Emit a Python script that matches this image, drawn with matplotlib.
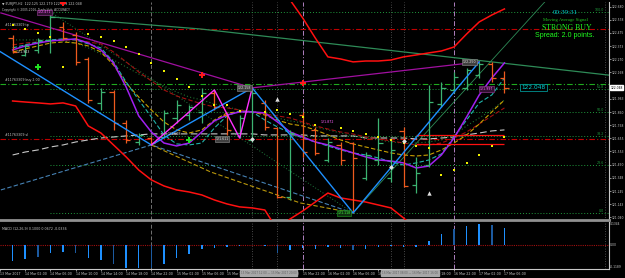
import matplotlib.pyplot as plt
import numpy as np

# EURJPY H2 - 40 bars on screen (bar index 0..39)
bars = np.arange(40)
opens = [122.436, 122.304, 122.343, 122.421, 122.522, 122.460, 122.273, 121.931, 122.016, 121.775,
         121.627, 121.658, 121.666, 121.814, 121.837, 121.861, 122.009, 121.837, 121.697, 121.643,
         121.931, 121.736, 121.200, 121.837, 121.721, 121.487, 121.604, 121.619, 121.347, 121.487,
         121.347, 121.713, 121.293, 121.448, 121.923, 122.032, 122.048, 122.149, 122.234, 122.125]
highs = [122.460, 122.390, 122.436, 122.639, 122.561, 122.483, 122.289, 122.048, 122.032, 121.798,
         121.697, 121.666, 121.876, 121.954, 121.915, 122.048, 122.032, 121.853, 121.837, 122.048,
         121.954, 121.744, 121.721, 121.861, 121.744, 121.658, 121.627, 121.627, 121.549, 121.814,
         121.643, 121.744, 121.511, 122.071, 122.094, 122.172, 122.203, 122.250, 122.250, 122.179]
lows = [122.320, 122.296, 122.320, 122.320, 122.421, 122.226, 121.931, 121.876, 121.721, 121.619,
        121.604, 121.604, 121.658, 121.775, 121.798, 121.775, 121.876, 121.682, 121.658, 121.627,
        121.721, 121.192, 121.176, 121.511, 121.526, 121.472, 121.448, 121.075, 121.332, 121.448,
        121.316, 121.277, 121.231, 121.433, 121.900, 122.009, 122.032, 122.125, 122.094, 122.009]
closes = [122.328, 122.374, 122.421, 122.600, 122.436, 122.250, 121.954, 122.016, 121.775, 121.643,
          121.682, 121.619, 121.853, 121.915, 121.900, 122.009, 121.900, 121.721, 121.814, 122.009,
          121.744, 121.200, 121.697, 121.549, 121.541, 121.627, 121.487, 121.503, 121.526, 121.619,
          121.565, 121.285, 121.386, 121.938, 122.048, 122.133, 122.187, 122.234, 122.125, 122.048]

# moving averages (one value per bar)
ma_purple = [122.343, 122.374, 122.397, 122.413, 122.421, 122.429, 122.397, 122.343, 122.242, 122.055,
             121.830, 121.705, 121.619, 121.596, 121.619, 121.705, 121.791, 121.837, 121.861, 121.861,
             121.853, 121.783, 121.705, 121.666, 121.627, 121.604, 121.573, 121.542, 121.511, 121.487,
             121.479, 121.464, 121.425, 121.440, 121.526, 121.658, 121.822, 121.993, 122.125, 122.242]
ma_cyan = [122.359, 122.382, 122.405, 122.421, 122.429, 122.421, 122.390, 122.359, 122.250, 122.094,
           121.954, 121.822, 121.682, 121.612, 121.604, 121.619, 121.736, 121.830, 121.868, 121.861,
           121.798, 121.744, 121.697, 121.658, 121.627, 121.596, 121.565, 121.542, 121.526, 121.503,
           121.472, 121.448, 121.464, 121.487, 121.534, 121.666, 121.798, 121.931, 121.993, 122.125]
ma_yellow = [122.327, 122.351, 122.374, 122.397, 122.405, 122.397, 122.374, 122.327, 122.226, 122.086,
             121.977, 121.876, 121.783, 121.721, 121.697, 121.721, 121.798, 121.853, 121.861, 121.861,
             121.837, 121.798, 121.767, 121.752, 121.721, 121.682, 121.643, 121.612, 121.588, 121.565,
             121.542, 121.526, 121.518, 121.526, 121.565, 121.619, 121.682, 121.767, 121.861, 121.954]
ma_darkred = [122.382, 122.397, 122.405, 122.413, 122.421, 122.421, 122.405, 122.390, 122.327, 122.250,
              122.172, 122.102, 122.032, 121.985, 121.954, 121.923, 121.900, 121.892, 121.876, 121.861,
              121.845, 121.830, 121.814, 121.783, 121.752, 121.728, 121.705, 121.689, 121.666, 121.651,
              121.635, 121.619, 121.604, 121.604, 121.619, 121.658, 121.705, 121.767, 121.830, 121.892]
ma_green = [122.421, 122.421, 122.421, 122.421, 122.413, 122.397, 122.359, 122.312, 122.265, 122.211,
            122.156, 122.110, 122.063, 122.016, 121.977, 121.954, 121.923, 121.900, 121.876, 121.868,
            121.845, 121.814, 121.791, 121.775, 121.744, 121.721, 121.697, 121.674, 121.658, 121.643,
            121.627, 121.619, 121.619, 121.627, 121.643, 121.682, 121.752, 121.814, 121.876, 121.954]
ma_gray = [121.526, 121.549, 121.565, 121.588, 121.604, 121.627, 121.643, 121.658, 121.666, 121.674,
           121.682, 121.690, 121.690, 121.690, 121.690, 121.690, 121.690, 121.690, 121.690, 121.690,
           121.682, 121.682, 121.682, 121.682, 121.674, 121.674, 121.674, 121.674, 121.658, 121.658,
           121.658, 121.658, 121.651, 121.651, 121.658, 121.666, 121.682, 121.697, 121.713, 121.721]

# envelope bands (red)
band_up_idx = list(range(20, 40))
band_up = [123.043, 122.888, 122.732, 122.592, 122.436, 122.289, 122.273, 122.250, 122.257, 122.257,
           122.265, 122.289, 122.304, 122.320, 122.335, 122.366, 122.467, 122.561, 122.615, 122.662]
band_lo_idx = list(range(0, 34))
band_lo = [121.946, 121.938, 121.931, 121.923, 121.931, 121.907, 121.752, 121.697, 121.604, 121.511,
           121.409, 121.332, 121.285, 121.254, 121.238, 121.215, 121.176, 121.145, 121.122, 121.114,
           121.098, 120.943, 121.028, 121.090, 121.160, 121.230, 121.192, 121.176, 121.160, 121.137,
           121.114, 121.036, 120.943, 120.826]

# parabolic SAR dots
sar = [122.537, 122.506, 122.475, 122.444, 122.211, np.nan, 122.467, 122.444, 122.413, 122.366,
       122.312, 122.242, 122.180, 122.117, 122.055, 121.985, 121.915, 121.915, 121.868, np.nan,
       121.861, 121.876, 121.845, 121.822, 121.760, np.nan, 121.736, 121.713, 121.690, 121.666,
       121.643, 121.619, 121.596, 121.581, 121.371, 121.409, 121.463, 121.526, 121.596, 121.666]

# zigzags and drawn lines (bar index, price)
zz_blue_x = [-3, 11, 19, 27, 37]
zz_blue_y = [122.452, 121.604, 122.048, 121.075, 122.250]
zz_pink_x = [11, 16, 18, 19]
zz_pink_y = [121.604, 122.032, 121.658, 122.048]
chan_x = [-0.93, 19, 37]
chan_y = [122.631, 122.048, 122.250]
steel_x = [-0.93, 11, 27]
steel_y = [121.254, 121.604, 121.075]
gold_x = [11, 15.7, 22.8, 27]
gold_y = [121.604, 121.394, 121.153, 121.075]
trend_x = [3, 14.91, 48.56]
trend_y = [122.600, 122.506, 122.133]
gann_x = [27, 42.6]
gann_y = [121.075, 122.760]

# fibonacci retracement from bar 3 high to bar 27 low
fib_hi, fib_lo = 122.639, 121.075
fib_levels = [100.0, 61.8, 50.0, 38.2, 23.6, 0.0]

# open order lines
tp_price, buy_price, sl_price = 122.506, 122.078, 121.651

# signal arrows
red_sig_x, red_sig_y = [4, 15, 23], [122.709, 122.148, 122.086]
green_sig_x, green_sig_y = [2, 14], [122.211, 121.643]
white_up_x, white_up_y = [21, 33], [121.962, 121.231]
white_dot_x, white_dot_y = [19, 30, 31], [121.651, 121.433, 121.635]

# MACD histogram
macd = [-0.082, -0.073, -0.061, -0.040, -0.035, -0.040, -0.067, -0.075, -0.096, -0.117,
        -0.119, -0.119, -0.096, -0.067, -0.046, -0.019, -0.012, -0.009, -0.004, 0.002,
        -0.002, -0.038, -0.021, -0.012, -0.016, -0.010, -0.014, -0.023, -0.017, -0.010,
        -0.002, -0.010, -0.010, 0.025, 0.059, 0.085, 0.103, 0.115, 0.108, 0.094]
macd_dark = [2, 5, 8, 11, 21, 27, 35, 38]

time_idx = [-1, 1, 3, 5, 7, 9, 11, 13, 15, 17, 19, 21, 23, 25, 27, 29, 31, 33, 35, 37, 39]
time_lbl = ["13 Mar 2017", "14 Mar 02:00", "14 Mar 06:00", "14 Mar 10:00", "14 Mar 14:00",
            "14 Mar 18:00", "14 Mar 22:00", "15 Mar 02:00", "15 Mar 06:00", "15 Mar 10:00",
            "15 Mar 14:00", "15 Mar 18:00", "15 Mar 22:00", "16 Mar 02:00", "16 Mar 06:00",
            "16 Mar 10:00", "16 Mar 14:00", "16 Mar 18:00", "16 Mar 22:00", "17 Mar 02:00",
            "17 Mar 06:00"]

price_ticks = [122.680, 122.578, 122.475, 122.373, 122.270, 122.168, 121.963, 121.860, 121.758,
               121.655, 121.553, 121.450, 121.348, 121.245, 121.143, 121.040]

BG = 'black'
UP = '#3cb371'
DN = '#ee5a1e'
FG = '#c8c8c8'
DASH = (0, (4, 2))
DOT = (0, (1, 2))
DASHDOT = (0, (5, 2, 1, 2))
TINY = 2.3
AXF = 2.2

fig = plt.figure(figsize=(6.25, 2.78), dpi=100, facecolor=BG)
ax = fig.add_axes([0, 0.2086, 0.9744, 0.7842], facecolor=BG)
am = fig.add_axes([0, 0.0324, 0.9744, 0.1691], facecolor=BG, sharex=ax)

ax.set_xlim(-0.93, 47.29)
ax.set_ylim(121.020, 122.716)

# period separators and vertical marker lines
ax.axvline(11, color='#707070', lw=0.7, ls=DASH, zorder=1)
am.axvline(11, color='#707070', lw=0.7, ls=DASH, zorder=1)
for v in [23, 35]:
    ax.axvline(v, color='#b080c0', lw=0.7, ls=DASHDOT, zorder=1)
    am.axvline(v, color='#b080c0', lw=0.7, ls=DASHDOT, zorder=1)
for v in [19, 21, 30, 31, 47]:
    ax.axvline(v, color='#606060', lw=0.6, ls=DOT, zorder=1)
    am.axvline(v, color='#606060', lw=0.6, ls=DOT, zorder=1)

# fibonacci levels
for lv in fib_levels:
    yv = fib_lo + (fib_hi - fib_lo) * lv / 100
    ax.hlines(yv, 3, 47.29, color='#1f9a3c', lw=0.7, ls=DOT, zorder=1)
    ax.text(46.9, yv, f"{lv:.1f}", color='#1f9a3c', fontsize=TINY, ha='right', va='bottom')
ax.plot([3, 27], [fib_hi, fib_lo], color='#1f7a3c', lw=0.7, ls=DOT, zorder=1)

# order lines
ax.axhline(tp_price, color='#c00000', lw=0.8, ls=DASHDOT, zorder=1)
ax.axhline(buy_price, color='#1faa1f', lw=0.8, ls=DASHDOT, zorder=1)
ax.axhline(sl_price, color='#c00000', lw=0.8, ls=DASHDOT, zorder=1)
ax.text(-0.6, tp_price + 0.012, "#11763309 tp", color=FG, fontsize=TINY, va='bottom')
ax.text(-0.6, buy_price + 0.012, "#11763309 buy 2.00", color=FG, fontsize=TINY, va='bottom')
ax.text(-0.6, sl_price + 0.012, "#11763309 sl", color=FG, fontsize=TINY, va='bottom')

# drawn lines
ax.plot(trend_x, trend_y, color='#2e8b57', lw=0.9, zorder=2)
ax.plot(gann_x, gann_y, color='#2e8b57', lw=0.6, zorder=2)
ax.plot(chan_x, chan_y, color='#a010a0', lw=0.9, zorder=2)
ax.plot(steel_x, steel_y, color='#4682b4', lw=0.8, ls=DASH, zorder=2)
ax.plot(gold_x, gold_y, color='#b8960b', lw=0.8, ls=DASH, zorder=2)

# moving averages
ax.plot(bars, ma_gray, color='#c8c8c8', lw=0.8, ls=(0, (6, 3)), zorder=2)
ax.plot(bars, ma_green, color='#1f6f2f', lw=0.8, ls=DOT, zorder=2)
ax.plot(bars, ma_darkred, color='#a01010', lw=0.8, ls=DASH, zorder=2)
ax.plot(bars, ma_yellow, color='#c8a000', lw=0.8, ls=DASH, zorder=2)
ax.plot(bars, ma_cyan, color='#20b2aa', lw=0.8, ls=DASH, zorder=2)
ax.plot(bars, ma_purple, color='#a020f0', lw=1.1, zorder=3)

# bands
ax.plot(band_up_idx, band_up, color='#ff1010', lw=1.1, zorder=3)
ax.plot(band_lo_idx, band_lo, color='#ff1010', lw=1.1, zorder=3)

# red short levels on the right
ax.hlines([121.682, 121.612], 32, 39, color='#ff1010', lw=0.9, zorder=3)

# OHLC bars
for i in bars:
    col = UP if closes[i] >= opens[i] else DN
    ax.vlines(i, lows[i], highs[i], color=col, lw=0.9, zorder=4)
    ax.hlines(opens[i], i - 0.33, i, color=col, lw=0.9, zorder=4)
    ax.hlines(closes[i], i, i + 0.33, color=col, lw=0.9, zorder=4)

# zigzags
ax.plot(zz_blue_x, zz_blue_y, color='#1e90ff', lw=1.0, zorder=5)
ax.plot(zz_pink_x, zz_pink_y, color='#ff30ff', lw=1.0, zorder=5)

# SAR and arrows
ax.scatter(bars, sar, s=2.5, marker='s', color='#f0f000', lw=0, zorder=5)
ax.scatter(red_sig_x, red_sig_y, s=14, marker='P', color='#ff1a1a', lw=0, zorder=6)
ax.scatter(green_sig_x, green_sig_y, s=14, marker='P', color='#20e020', lw=0, zorder=6)
ax.scatter(white_up_x, white_up_y, s=10, marker='^', color='#e0e0e0', lw=0, zorder=6)
ax.scatter(white_dot_x, white_dot_y, s=6, marker='D', color='#e0e0e0', lw=0, zorder=6)

# zigzag labels
lab = dict(fontsize=TINY, va='center', zorder=7)
gray_box = dict(fc='#404040', ec='#909090', lw=0.4, pad=0.5)
pink_box = dict(fc='#301030', ec='#a040a0', lw=0.4, pad=0.5)
ax.text(18.9, 122.048, "122.158", color='#e0e0e0', ha='right', bbox=gray_box, **lab)
ax.text(26.8, 121.075, "121.118", color='#40ff40', ha='right',
        bbox=dict(fc='#103010', ec='#20a020', lw=0.4, pad=0.5), **lab)
ax.text(36.8, 122.250, "122.250", color='#e0e0e0', ha='right', bbox=gray_box, **lab)
ax.text(16.6, 121.651, "121.611", color='#e0e0e0', ha='center', bbox=gray_box, **lab)
ax.text(12.3, 121.690, "121.608", color='#e0e0e0', ha='left', **lab)
ax.text(25.0, 121.783, "121.872", color='#ff60ff', ha='center', **lab)
ax.text(37.6, 122.040, "121.997", color='#ff60ff', ha='center', bbox=pink_box, **lab)
ax.text(2.0, 122.635, "122.471", color='#ff60ff', ha='left', bbox=pink_box, **lab)
ax.text(0.3, 122.330, "121.943", color='#e0e0e0', ha='left', **lab)

# current price label in chart
ax.text(41.3, 122.048, "122.048", color='#00d0d0', fontsize=4.2, ha='center', va='center', zorder=7,
        bbox=dict(fc=BG, ec='#00b0b0', lw=0.5, pad=0.7))

# header + signal panel text
ax.text(0.004, 0.998, "\u25bc EURJPY,H2  122.125 122.179 122.009 122.048", color=FG, fontsize=TINY,
        transform=ax.transAxes, va='top', ha='left')
ax.text(0.004, 0.972, "Copyright \u00a9 2005-2016, Trade Hub, ACCURACY", color=FG, fontsize=2.1,
        transform=ax.transAxes, va='top', ha='left')
ax.text(0.928, 0.950, "00:39:31", color='#00d0d0', fontsize=5, family='Liberation Serif',
        transform=ax.transAxes, ha='center', va='center')
ax.text(0.928, 0.917, "Moving Average Signal", color='#20c020', fontsize=3.4, family='Liberation Serif',
        transform=ax.transAxes, ha='center', va='center')
ax.text(0.930, 0.883, "STRONG BUY", color='#20ff20', fontsize=5.6, family='Liberation Serif',
        transform=ax.transAxes, ha='center', va='center')
ax.text(0.928, 0.846, "Spread: 2.0 points.", color='#20ff20', fontsize=5, family='Liberation Sans',
        transform=ax.transAxes, ha='center', va='center')

# price axis on the right
ax.yaxis.tick_right()
ax.set_yticks(price_ticks)
ax.set_yticklabels([f"{v:.3f}" for v in price_ticks])
ax.tick_params(axis='y', colors=FG, labelsize=AXF, length=1.2, width=0.5, pad=0.5)
ax.tick_params(axis='x', bottom=False, labelbottom=False)
ax.annotate("122.048", xy=(1.0, 122.048), xycoords=('axes fraction', 'data'),
            xytext=(1.0, 0), textcoords='offset points', fontsize=AXF, color='black',
            va='center', ha='left', annotation_clip=False,
            bbox=dict(fc='white', ec='white', pad=0.3))
for s in ['top', 'left']:
    ax.spines[s].set_visible(False)
ax.spines['right'].set_color(FG)
ax.spines['right'].set_linewidth(0.8)
ax.spines['bottom'].set_color('#909090')
ax.spines['bottom'].set_linewidth(2)

# MACD panel
mcols = ['#1c5aa0' if i in macd_dark else '#1e90ff' for i in bars]
am.bar(bars, macd, width=0.12, color=mcols, zorder=3)
am.axhline(0, color='#a01010', lw=0.8, ls=(0, (1, 1)), zorder=2)
am.set_ylim(-0.123, 0.123)
am.set_yticks([])
am.text(1.002, 0.95, "0.1344", transform=am.transAxes, color=FG, fontsize=AXF, va='center', ha='left')
am.text(1.002, 0.50, "0.00", transform=am.transAxes, color=FG, fontsize=AXF, va='center', ha='left')
am.text(1.002, 0.05, "-0.1189", transform=am.transAxes, color=FG, fontsize=AXF, va='center', ha='left')
am.text(0.004, 0.86, "MACD (12,26,9) 0.1000 0.0672 -0.0336", transform=am.transAxes, color=FG,
        fontsize=TINY, va='center', ha='left')
am.set_xticks(time_idx)
am.set_xticklabels(time_lbl, ha='left')
am.tick_params(axis='x', colors=FG, labelsize=TINY, length=1.5, width=0.5, pad=1)
for s in ['top', 'left']:
    am.spines[s].set_visible(False)
am.spines['right'].set_color(FG)
am.spines['bottom'].set_color(FG)
am.spines['right'].set_linewidth(0.8)
am.spines['bottom'].set_linewidth(0.8)

# grey label boxes on the time axis (cover the labels beneath)
box = dict(fc='#a8a8a8', ec='#a8a8a8', pad=0.6)
am.text(20.3, -0.085, "15 Mar 2017 12:00 \u2014 15 Mar 2017 20:00", transform=am.get_xaxis_transform(),
        color='#606060', fontsize=2.0, ha='center', va='center', bbox=box, clip_on=False, zorder=10)
am.text(31.5, -0.085, "16 Mar 2017 08:00 \u2014 16 Mar 2017 16:00", transform=am.get_xaxis_transform(),
        color='#606060', fontsize=2.0, ha='center', va='center', bbox=box, clip_on=False, zorder=10)

fig.savefig("out.png", dpi=100, facecolor=BG)
